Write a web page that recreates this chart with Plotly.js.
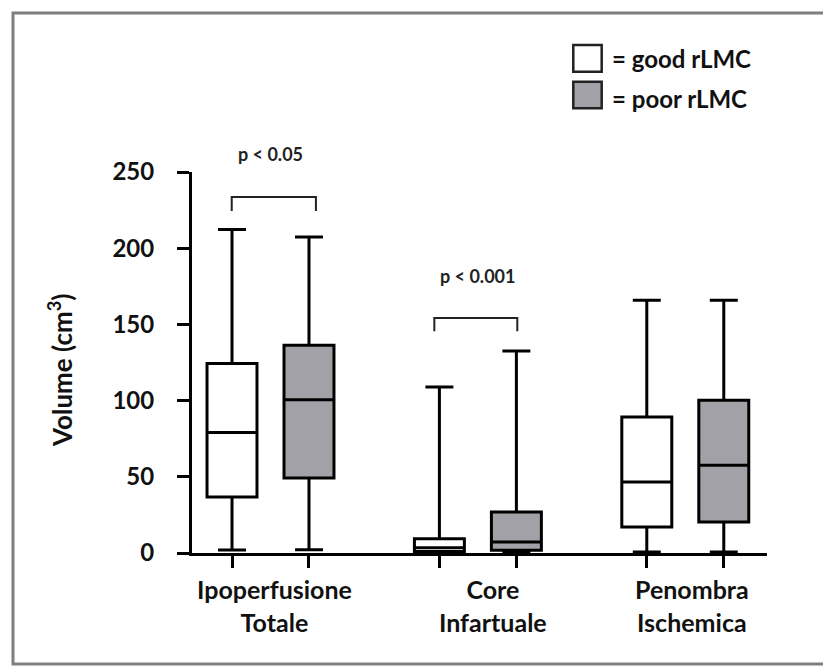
<!DOCTYPE html>
<html>
<head>
<meta charset="utf-8">
<script src="https://cdn.plot.ly/plotly-3.0.1.min.js"></script>
<style>
html,body{margin:0;padding:0;background:#fff;}
#chart{width:823px;height:666px;}
</style>
</head>
<body>
<div id="chart"></div>
<script>
// ---- data ----
const categories = ['Ipoperfusione<br>Totale', 'Core<br>Infartuale', 'Penombra<br>Ischemica'];
const seriesNames = ['good rLMC', 'poor rLMC'];

const goodLower  = [2.0, 0.0, 0.7];
const goodQ1     = [36.7, 1.0, 17.1];
const goodMedian = [79.0, 3.5, 46.6];
const goodQ3     = [124.3, 9.4, 89.2];
const goodUpper  = [212.2, 108.9, 165.8];

const poorLower  = [2.2, 0.0, 0.7];
const poorQ1     = [49.2, 1.8, 20.3];
const poorMedian = [100.6, 7.2, 57.5];
const poorQ3     = [136.3, 26.9, 100.2];
const poorUpper  = [207.4, 132.5, 165.8];

const pLabels = ['p < 0.05', 'p < 0.001'];
const pGroups = [0, 1];
const pTextY = [262, 182];
const bracketTop = [233.6, 154.2];
const bracketLeg = [224.4, 145.5];

const yTicks = [0, 50, 100, 150, 200, 250];

// ---- styling ----
const FONT = 'Lato, "Open Sans", sans-serif';
const POOR_FILL = '#a2a1a7';
const offset = 0.1856;            // half distance between grouped boxes (axis units)
const bracketX = [[-0.187, 0.219], [-0.21, 0.19]];
const labelShift = [4, 15, 7];
const Y_MAX = 250;

const xIdx = categories.map((c, i) => i);

function boxTrace(name, lo, q1, med, q3, hi, fill) {
  return {
    type: 'box', name: name, x: xIdx,
    lowerfence: lo, q1: q1, median: med, q3: q3, upperfence: hi,
    boxpoints: false, fillcolor: fill,
    line: {color: '#000', width: 3},
    whiskerwidth: 0.56,
    hoverinfo: 'skip', showlegend: false
  };
}

const data = [
  boxTrace(seriesNames[0], goodLower, goodQ1, goodMedian, goodQ3, goodUpper, '#ffffff'),
  boxTrace(seriesNames[1], poorLower, poorQ1, poorMedian, poorQ3, poorUpper, POOR_FILL)
];

const tickPos = [];
xIdx.forEach(i => { tickPos.push(i - offset, i + offset); });

const shapes = [];
// outer frame
shapes.push({type:'rect', xref:'paper', yref:'paper', x0:-0.3113, x1:1.12, y0:-0.2913, y1:1.4173,
  line:{color:'#7f7f7f', width:3}, fillcolor:'rgba(0,0,0,0)', layer:'below'});
// brackets
pGroups.forEach((g, k) => {
  const x0 = g + bracketX[k][0], x1 = g + bracketX[k][1];
  shapes.push({type:'path', xref:'x', yref:'y',
    path: `M ${x0},${bracketLeg[k]} L ${x0},${bracketTop[k]} L ${x1},${bracketTop[k]} L ${x1},${bracketLeg[k]}`,
    line:{color:'#222', width:2}});
});
// legend boxes
shapes.push({type:'rect', xref:'paper', yref:'paper', x0:0.6631, x1:0.7125, y0:1.2633, y1:1.3333,
  line:{color:'#222', width:2.5}, fillcolor:'#ffffff'});
shapes.push({type:'rect', xref:'paper', yref:'paper', x0:0.6631, x1:0.7125, y0:1.1672, y1:1.2370,
  line:{color:'#222', width:2.5}, fillcolor:POOR_FILL});

const annotations = [];
categories.forEach((c, i) => {
  annotations.push({x:i, xref:'x', y:-0.1391, yref:'paper', text:c, showarrow:false,
    xanchor:'center', yanchor:'middle', xshift:labelShift[i],
    font:{family:FONT, size:25, color:'#111', weight:'bold'}});
});
pGroups.forEach((g, k) => {
  // y given in data units, placed in paper space so it may sit above the axis range
  annotations.push({x:g, xref:'x', y:pTextY[k] / Y_MAX, yref:'paper', text:pLabels[k], showarrow:false,
    xanchor:'center', yanchor:'middle',
    font:{family:FONT, size:18, color:'#222', weight:'bold'}});
});
annotations.push({x:0.727, xref:'paper', y:1.2984, yref:'paper', text:'= ' + seriesNames[0], showarrow:false,
  xanchor:'left', yanchor:'middle', font:{family:FONT, size:24, color:'#111', weight:'bold'}});
annotations.push({x:0.727, xref:'paper', y:1.1934, yref:'paper', text:'= ' + seriesNames[1], showarrow:false,
  xanchor:'left', yanchor:'middle', font:{family:FONT, size:24, color:'#111', weight:'bold'}});
annotations.push({x:-0.2278, xref:'paper', y:0.4777, yref:'paper', text:'Volume (cm<sup>3</sup>)', showarrow:false,
  textangle:-90, xanchor:'center', yanchor:'middle', font:{family:FONT, size:26, color:'#111', weight:'bold'}});

const layout = {
  width: 823, height: 666,
  margin: {l:192, r:56, t:172, b:113, pad:0},
  paper_bgcolor:'#fff', plot_bgcolor:'#fff',
  boxmode:'group', boxgap:0.2576, boxgroupgap:0.351,
  showlegend:false,
  xaxis: {type:'linear', range:[-0.3785, 2.394], showgrid:false, zeroline:false,
    showline:true, linecolor:'#000', linewidth:3,
    tickmode:'array', tickvals:tickPos,
    ticks:'outside', ticklen:12, tickwidth:3, tickcolor:'#000', showticklabels:false},
  yaxis: {range:[0, Y_MAX], showgrid:false, zeroline:false,
    showline:true, linecolor:'#000', linewidth:3,
    tickmode:'array', tickvals:yTicks,
    ticks:'outside', ticklen:12, tickwidth:3, tickcolor:'#000',
    ticklabelstandoff:18,
    tickfont:{family:FONT, size:24, color:'#111', weight:'bold'}},
  shapes: shapes,
  annotations: annotations
};

Plotly.newPlot('chart', data, layout, {displayModeBar:false, staticPlot:true});
</script>
</body>
</html>
